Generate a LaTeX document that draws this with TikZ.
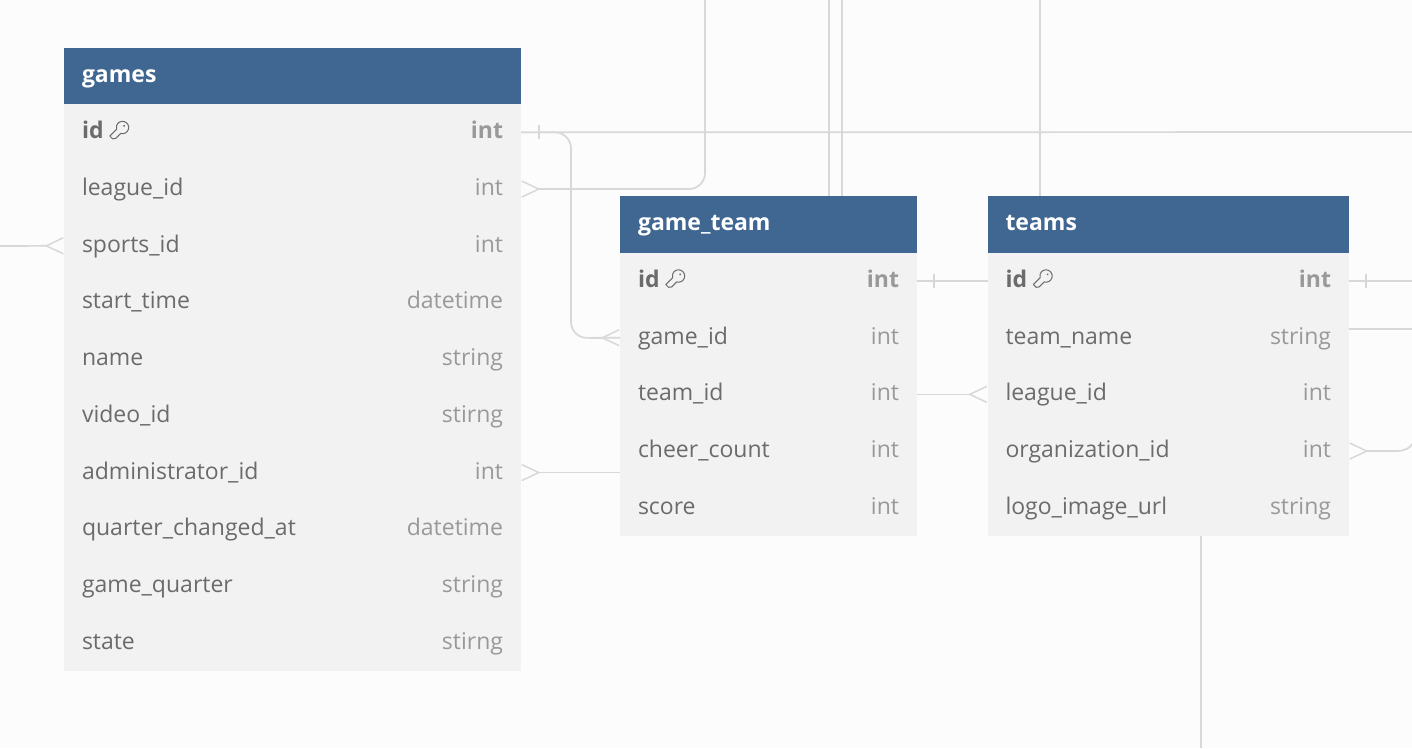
\documentclass[tikz,border=0pt]{standalone}
\usepackage{fontspec}
\setmainfont{Open Sans}
\usetikzlibrary{arrows.meta,positioning}
\definecolor{headblue}{HTML}{3F6792}
\definecolor{rowgray}{HTML}{F2F2F2}
\definecolor{rowsep}{HTML}{F4F4F4}
\definecolor{pagegray}{HTML}{FCFCFC}
\definecolor{linkgray}{HTML}{D8D8D8}
\definecolor{namegray}{HTML}{6B6B6B}
\definecolor{typegray}{HTML}{999999}
\begin{document}
\begin{tikzpicture}[
      x=1pt, y=-1pt,
      node distance=0pt,
      tablehead/.style={fill=headblue, text=white, font=\fontsize{23}{28}\selectfont\bfseries, align=left, anchor=north west, inner xsep=18pt, inner ysep=0pt, outer sep=0pt, minimum height=56pt, text height=18pt, text depth=5pt, text width=#1},
      fieldrow/.style={fill=rowgray, text=namegray, font=\fontsize{23}{28}\selectfont, align=left, inner xsep=18pt, inner ysep=0pt, outer sep=0pt, minimum height=56.7pt, text height=18pt, text depth=5pt, text width=#1},
      fieldtype/.style={text=typegray, font=\fontsize{23}{28}\selectfont, anchor=east, inner xsep=18pt, inner ysep=0pt, outer sep=0pt, text height=18pt, text depth=5pt},
      keyrow/.style={fieldrow=#1, font=\fontsize{23}{28}\selectfont\bfseries},
      keytype/.style={fieldtype, font=\fontsize{23}{28}\selectfont\bfseries},
      rowline/.style={draw=rowsep, line width=1pt},
      link/.style={draw=linkgray, line width=1.7pt},
      many/.style={link, {Straight Barb[reversed, length=17pt, width=16pt, line width=1.5pt]}-},
      keyicon/.pic={
        \draw[namegray, line width=1pt, line join=round, x=1pt, y=1pt, rotate=225] (28:6.2) arc[start angle=28, end angle=332, radius=6.2] -- (15,-2.9) -- (15,1) -- (12.5,2.9) -- cycle;
        \fill[namegray, x=1pt, y=1pt, rotate=225] (-2.2,0) circle[radius=1];
      },
      onemark/.pic={
        \draw[link, line width=1.2pt] (0,-7) -- (0,7);
      }
  ]
      \useasboundingbox (0,0) rectangle (1412,748);
      \fill[pagegray] (0,0) rectangle (1412,748);

      % games table
      \node[tablehead=421pt] (games) at (64,48) {games};
      \node[keyrow=421pt, below=of games] (games-id) {id};
      \node[fieldrow=421pt, below=of games-id] (games-league) {league\_id};
      \node[fieldrow=421pt, below=of games-league] (games-sports) {sports\_id};
      \node[fieldrow=421pt, below=of games-sports] (games-start) {start\_time};
      \node[fieldrow=421pt, below=of games-start] (games-name) {name};
      \node[fieldrow=421pt, below=of games-name] (games-video) {video\_id};
      \node[fieldrow=421pt, below=of games-video] (games-admin) {administrator\_id};
      \node[fieldrow=421pt, below=of games-admin] (games-changed) {quarter\_changed\_at};
      \node[fieldrow=421pt, below=of games-changed] (games-quarter) {game\_quarter};
      \node[fieldrow=421pt, below=of games-quarter] (games-state) {state};
      \node[keytype] (games-id-type) at (games-id.east) {int};
      \node[fieldtype] (games-league-type) at (games-league.east) {int};
      \node[fieldtype] (games-sports-type) at (games-sports.east) {int};
      \node[fieldtype] (games-start-type) at (games-start.east) {datetime};
      \node[fieldtype] (games-name-type) at (games-name.east) {string};
      \node[fieldtype] (games-video-type) at (games-video.east) {stirng};
      \node[fieldtype] (games-admin-type) at (games-admin.east) {int};
      \node[fieldtype] (games-changed-type) at (games-changed.east) {datetime};
      \node[fieldtype] (games-quarter-type) at (games-quarter.east) {string};
      \node[fieldtype] (games-state-type) at (games-state.east) {stirng};

      % game_team table
      \node[tablehead=261pt, minimum height=56.6pt] (gameteam) at (620,196) {game\_team};
      \node[keyrow=261pt, below=of gameteam] (gameteam-id) {id};
      \node[fieldrow=261pt, below=of gameteam-id] (gameteam-game) {game\_id};
      \node[fieldrow=261pt, below=of gameteam-game] (gameteam-team) {team\_id};
      \node[fieldrow=261pt, below=of gameteam-team] (gameteam-cheer) {cheer\_count};
      \node[fieldrow=261pt, below=of gameteam-cheer] (gameteam-score) {score};
      \node[keytype] (gameteam-id-type) at (gameteam-id.east) {int};
      \node[fieldtype] (gameteam-game-type) at (gameteam-game.east) {int};
      \node[fieldtype] (gameteam-team-type) at (gameteam-team.east) {int};
      \node[fieldtype] (gameteam-cheer-type) at (gameteam-cheer.east) {int};
      \node[fieldtype] (gameteam-score-type) at (gameteam-score.east) {int};

      % teams table
      \node[tablehead=325.5pt, minimum height=56.6pt] (teams) at (987.5,196) {teams};
      \node[keyrow=325.5pt, below=of teams] (teams-id) {id};
      \node[fieldrow=325.5pt, below=of teams-id] (teams-name) {team\_name};
      \node[fieldrow=325.5pt, below=of teams-name] (teams-league) {league\_id};
      \node[fieldrow=325.5pt, below=of teams-league] (teams-org) {organization\_id};
      \node[fieldrow=325.5pt, below=of teams-org] (teams-logo) {logo\_image\_url};
      \node[keytype] (teams-id-type) at (teams-id.east) {int};
      \node[fieldtype] (teams-name-type) at (teams-name.east) {string};
      \node[fieldtype] (teams-league-type) at (teams-league.east) {int};
      \node[fieldtype] (teams-org-type) at (teams-org.east) {int};
      \node[fieldtype] (teams-logo-type) at (teams-logo.east) {string};

      \foreach \row in {games-id,games-league,games-sports,games-start,games-name,games-video,games-admin,games-changed,games-quarter,gameteam-id,gameteam-game,gameteam-team,gameteam-cheer,teams-id,teams-name,teams-league,teams-org}
        \draw[rowline] (\row.south west) -- (\row.south east);

      \pic at (122.5,127.5) {keyicon};
      \pic at (678.5,276) {keyicon};
      \pic at (1046,276) {keyicon};

      % free ends outside the picture
      \coordinate (off-left) at (0,246);
      \coordinate (off-games) at (1412,132);
      \coordinate (off-league) at (705,0);
      \coordinate (off-a) at (829,0);
      \coordinate (off-b) at (842,0);
      \coordinate (off-c) at (1040,0);
      \coordinate (off-id) at (1412,281);
      \coordinate (off-name) at (1412,329);
      \coordinate (off-down) at (1201,748);
      \coordinate (off-org) at (1412,444);

      \draw[link] (games-id.east) -- (off-games);
      \draw[link, rounded corners=16pt] (games-id.east) -| (571,338) -- (gameteam-game.west);
      \draw[many] (gameteam-game.west) -- (590,338);
      \draw[many, rounded corners=16pt] (games-league.east) -| (off-league);
      \draw[many] (games-sports.west) -- (off-left);
      \draw[many] (games-admin.east) -- (gameteam-cheer.west |- games-admin.east);
      \draw[link] (off-a) -- (off-a |- gameteam.north);
      \draw[link] (off-b) -- (off-b |- gameteam.north);
      \draw[link] (off-c) -- (off-c |- teams.north);
      \draw[link] (gameteam-id.east) -- (teams-id.west);
      \draw[many] (teams-league.west) -- (gameteam-team.east);
      \draw[link] (teams-id.east) -- (off-id);
      \draw[link] (teams-name.east |- off-name) -- (off-name);
      \draw[many] (teams-org.east) -- (1396,451) .. controls (1405,451) and (1410,448) .. (off-org);
      \draw[link] (teams-logo.south -| off-down) -- (off-down);

      \pic at (539,132) {onemark};
      \pic at (934,281) {onemark};
      \pic at (1366,281) {onemark};
  \end{tikzpicture}
\end{document}
